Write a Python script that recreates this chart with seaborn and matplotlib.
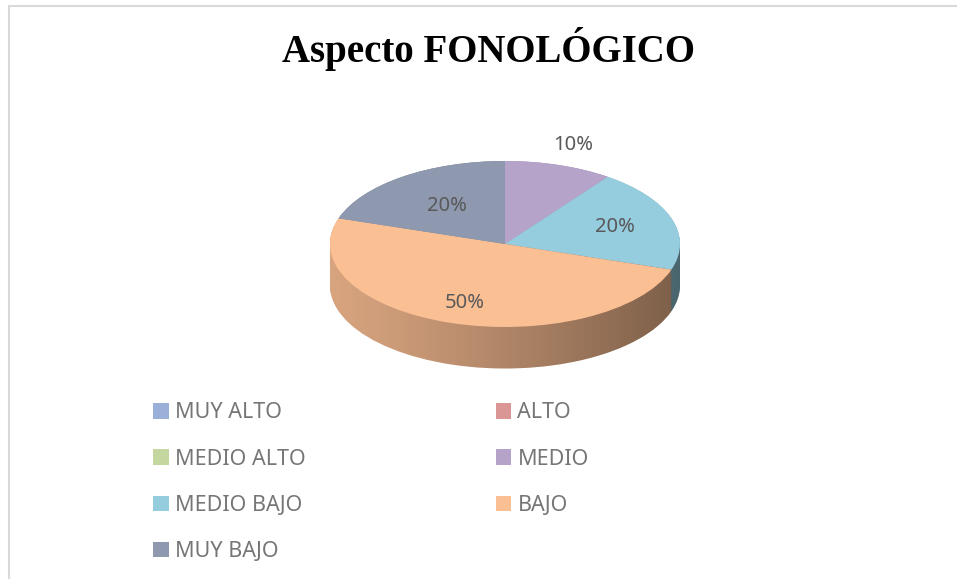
import matplotlib
matplotlib.use("Agg")
import matplotlib.pyplot as plt
import matplotlib.colors as mcolors
from matplotlib.patches import Rectangle, Polygon
import numpy as np
import seaborn as sns

# data
categories = ["MUY ALTO", "ALTO", "MEDIO ALTO", "MEDIO", "MEDIO BAJO", "BAJO", "MUY BAJO"]
percent = [0, 0, 0, 10, 20, 50, 20]
palette = ["#9AB0D8", "#D99695", "#C4D79E", "#B6A3C9", "#95CCDE", "#FBBF94", "#8E98AE"]
title = "Aspecto FONOLÓGICO"

sns.set_theme(style="white")
plt.rcParams["font.family"] = ["Noto Sans", "DejaVu Sans"]

W, H = 957, 579
fig = plt.figure(figsize=(W / 100, H / 100), dpi=100)
ax = fig.add_axes([0, 0, 1, 1])

# pie geometry in pixels (ellipse squashed by axis limits)
cx, cy = 505, 244
rx, ry = 175, 83
depth = 0.5

# side of the "3d" pie: stacked copies, darker
side_cols = [tuple(c * 0.86 for c in mcolors.to_rgb(p)) for p in palette]
for off in np.linspace(-depth, 0, 45):
    ax.pie(percent, colors=side_cols, startangle=90, counterclock=False,
           center=(0, off), radius=1, wedgeprops=dict(linewidth=0))

# horizontal shading on the side
t = np.linspace(np.pi, 2 * np.pi, 200)
pts = np.column_stack([np.cos(t), np.sin(t) - depth])
pts = np.vstack([pts, [[1, 0], [-1, 0]]])
clip = Polygon(pts, closed=True, transform=ax.transData, facecolor="none", edgecolor="none")
ax.add_patch(clip)
grad = np.zeros((2, 256, 4))
grad[..., 3] = np.linspace(0.0, 0.5, 256) ** 1.2
img = ax.imshow(grad, extent=(-1.02, 1.02, -1 - depth - 0.05, 0.05), aspect="auto",
                zorder=3, interpolation="bilinear")
img.set_clip_path(clip)

# top face
wedges, _ = ax.pie(percent, colors=palette, startangle=90, counterclock=False,
                   center=(0, 0), radius=1, wedgeprops=dict(linewidth=0))
for w in wedges:
    w.set_zorder(5)

# percentage labels
label_dist = [0, 0, 0, 1.26, 0.66, 0.75, 0.56]
start = 0.0
total = sum(percent)
for v, d in zip(percent, label_dist):
    if v > 0:
        mid = np.deg2rad((start + v / 2) / total * 360)
        ax.text(d * np.sin(mid), d * np.cos(mid), f"{v}%", ha="center", va="center",
                fontsize=14.5, color="#595959", zorder=6)
    start += v

ax.set_aspect("auto")
ax.set_xlim(-cx / rx, (W - cx) / rx)
ax.set_ylim(-(H - cy) / ry, cy / ry)
ax.axis("off")

# title
fig.text(488 / W, 1 - 49 / H, title, ha="center", va="center", fontsize=28,
         fontweight="bold", family="Liberation Serif", color="black")

# legend, row-major order in two columns
order = [0, 2, 4, 6, 1, 3, 5]
leg = fig.legend([wedges[i] for i in order], [categories[i] for i in order],
                 ncol=2, loc="upper left", bbox_to_anchor=(134 / W, 1 - 383 / H),
                 frameon=False, fontsize=15.5, handlelength=0.72, handleheight=0.72,
                 handletextpad=0.3, columnspacing=8.8, labelspacing=1.17)
for txt in leg.get_texts():
    txt.set_color("#767676")

# chart border (only left and top visible)
fig.patches.append(Rectangle((9 / W, -0.1), 1.2, 1 - 6.5 / H + 0.1, transform=fig.transFigure,
                             fill=False, edgecolor="#D9D9D9", linewidth=1.5))

fig.savefig("out.png", dpi=100)
